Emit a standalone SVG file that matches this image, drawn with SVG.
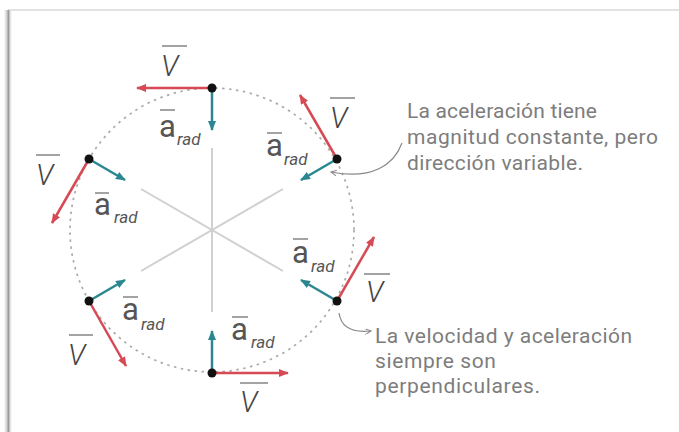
<svg xmlns="http://www.w3.org/2000/svg" width="679" height="432" viewBox="0 0 679 432">
<defs>
<marker id="hr" markerWidth="10" markerHeight="8" refX="9" refY="4" orient="auto" markerUnits="userSpaceOnUse"><path d="M0,0 L10,4 L0,8 Z" fill="#d64a55"/></marker>
<marker id="ht" markerWidth="10" markerHeight="8" refX="9" refY="4" orient="auto" markerUnits="userSpaceOnUse"><path d="M0,0 L10,4 L0,8 Z" fill="#2a8791"/></marker>
<marker id="hg" markerWidth="7" markerHeight="6" refX="6" refY="3" orient="auto" markerUnits="userSpaceOnUse"><path d="M0,0 L6,3 L0,6" fill="none" stroke="#888" stroke-width="1"/></marker>
<linearGradient id="sh" x1="0" x2="1" y1="0" y2="0"><stop offset="0" stop-color="#fff"/><stop offset="0.5" stop-color="#bbb"/><stop offset="1" stop-color="#fff"/></linearGradient>
<style>
.v{stroke:#d64a55;stroke-width:2.5;fill:none;marker-end:url(#hr)}
.a{stroke:#2a8791;stroke-width:2.5;fill:none;marker-end:url(#ht)}
.dot{fill:#111}
.lv{font-family:Roboto,"Liberation Sans",sans-serif;font-style:italic;font-weight:300;font-size:29px;fill:#444}
.la{font-family:Roboto,"Liberation Sans",sans-serif;font-weight:400;font-size:31px;fill:#555}
.lr{font-family:Roboto,"Liberation Sans",sans-serif;font-style:italic;font-size:17px;fill:#555}
.ol{stroke:#666;stroke-width:1.2}
.note{font-family:Roboto,"Liberation Sans",sans-serif;font-size:21px;fill:#7d7d7d}
.sp{stroke:#d0d0d0;stroke-width:2}
</style>
</defs>
<rect x="0" y="0" width="679" height="432" fill="#fff"/>
<g id="frame">
<rect x="4" y="10" width="8" height="422" fill="url(#sh)"/>
<line x1="8" y1="10" x2="679" y2="10" stroke="#d8d8d8" stroke-width="1.5"/>
<line x1="8.5" y1="10" x2="8.5" y2="432" stroke="#999" stroke-width="1.5"/>
</g>
<g id="circle">
<circle cx="212" cy="230" r="142" fill="none" stroke="#aaa" stroke-width="1.7" stroke-dasharray="2.5 4.5"/>
<line class="sp" x1="212" y1="148" x2="212" y2="312"/>
<line class="sp" x1="141" y1="189" x2="283" y2="271"/>
<line class="sp" x1="141" y1="271" x2="283" y2="189"/>
</g>
<g id="connectors">
<line class="v" x1="212" y1="88" x2="137" y2="88"/>
<line class="a" x1="212" y1="88" x2="212" y2="130"/>
<line class="v" x1="337" y1="159" x2="300" y2="95"/>
<line class="a" x1="337" y1="159" x2="301" y2="180"/>
<line class="v" x1="89" y1="159" x2="52" y2="223"/>
<line class="a" x1="89" y1="159" x2="125" y2="180"/>
<line class="v" x1="89" y1="301" x2="126" y2="366"/>
<line class="a" x1="89" y1="301" x2="125" y2="280"/>
<line class="v" x1="212" y1="373" x2="288" y2="373"/>
<line class="a" x1="212" y1="373" x2="212" y2="331"/>
<line class="v" x1="337" y1="301" x2="374" y2="237"/>
<line class="a" x1="337" y1="301" x2="301" y2="280"/>
<path d="M402,143 C394,165 372,180 331,172" fill="none" stroke="#888" stroke-width="1.2" marker-end="url(#hg)"/>
<path d="M339,313 C341,327 352,333 371,331" fill="none" stroke="#888" stroke-width="1.2" marker-end="url(#hg)"/>
</g>
<g id="p-top">
<circle class="dot" cx="212" cy="88" r="4.5"/>
<line class="ol" x1="162" y1="46" x2="187" y2="46"/>
<text class="lv" x="161" y="76">V</text>
<line class="ol" x1="160" y1="110" x2="175" y2="110"/>
<text class="la" x="159" y="137">a</text>
<text class="lr" x="177" y="145">rad</text>
</g>
<g id="p-upper-right">
<circle class="dot" cx="337" cy="159" r="4.5"/>
<line class="ol" x1="330" y1="98" x2="355" y2="98"/>
<text class="lv" x="330" y="128">V</text>
<line class="ol" x1="267" y1="133" x2="282" y2="133"/>
<text class="la" x="266" y="156">a</text>
<text class="lr" x="284" y="165">rad</text>
</g>
<g id="p-upper-left">
<circle class="dot" cx="89" cy="159" r="4.5"/>
<line class="ol" x1="36" y1="155" x2="60" y2="155"/>
<text class="lv" x="36" y="185">V</text>
<line class="ol" x1="95" y1="193" x2="109" y2="193"/>
<text class="la" x="94" y="215">a</text>
<text class="lr" x="114" y="223">rad</text>
</g>
<g id="p-lower-left">
<circle class="dot" cx="89" cy="301" r="4.5"/>
<line class="ol" x1="69" y1="335" x2="93" y2="335"/>
<text class="lv" x="68" y="365">V</text>
<line class="ol" x1="123" y1="297" x2="138" y2="297"/>
<text class="la" x="122" y="320">a</text>
<text class="lr" x="141" y="330">rad</text>
</g>
<g id="p-bottom">
<circle class="dot" cx="212" cy="373" r="4.5"/>
<line class="ol" x1="240" y1="383" x2="268" y2="383"/>
<text class="lv" x="240" y="412">V</text>
<line class="ol" x1="232" y1="317" x2="248" y2="317"/>
<text class="la" x="231" y="340">a</text>
<text class="lr" x="251" y="348">rad</text>
</g>
<g id="p-lower-right">
<circle class="dot" cx="337" cy="301" r="4.5"/>
<line class="ol" x1="364" y1="274" x2="390" y2="274"/>
<text class="lv" x="366" y="302">V</text>
<line class="ol" x1="293" y1="239" x2="308" y2="239"/>
<text class="la" x="292" y="263">a</text>
<text class="lr" x="311" y="272">rad</text>
</g>
<g id="note1">
<text class="note" x="407" y="118" textLength="190" lengthAdjust="spacing">La aceleración tiene</text>
<text class="note" x="407" y="144" textLength="251" lengthAdjust="spacing">magnitud constante, pero</text>
<text class="note" x="407" y="170" textLength="176" lengthAdjust="spacing">dirección variable.</text>
</g>
<g id="note2">
<text class="note" x="375" y="343" textLength="257" lengthAdjust="spacing">La velocidad y aceleración</text>
<text class="note" x="375" y="368" letter-spacing="0.6">siempre son</text>
<text class="note" x="375" y="393" textLength="165" lengthAdjust="spacing">perpendiculares.</text>
</g>
</svg>
